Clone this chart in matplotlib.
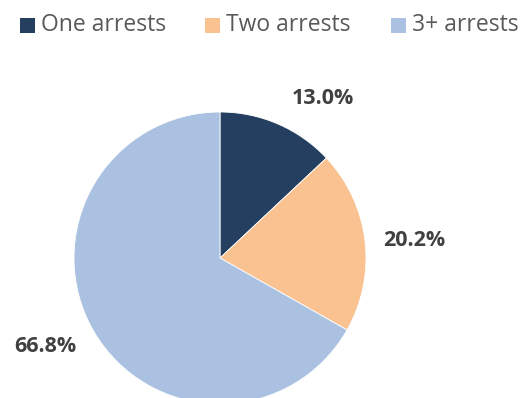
import matplotlib.pyplot as plt
from matplotlib.patches import Rectangle

categories = ["One arrests", "Two arrests", "3+ arrests"]
shares = [13.0, 20.2, 66.8]
colors = ["#243F60", "#F9C290", "#AAC1E1"]

W, H = 521, 398
fig = plt.figure(figsize=(W / 100, H / 100), dpi=100)
ax = fig.add_axes([0, 0, 1, 1])

cx, cy, r = 220, H - 258, 146
ax.pie(shares, colors=colors, startangle=90, counterclock=False,
       center=(cx, cy), radius=r, frame=True,
       wedgeprops=dict(linewidth=0.6, edgecolor="white"))
ax.set_xlim(0, W)
ax.set_ylim(0, H)
ax.set_aspect("equal")
ax.axis("off")

# percentage labels outside the slices
label_pos = [(323, H - 99), (414, H - 240), (45, H - 347)]
for v, (x, y) in zip(shares, label_pos):
    ax.text(x, y, f"{v:.1f}%", ha="center", va="center", fontsize=15.5,
            fontweight="bold", color="#404040", family="Open Sans")

# legend row across the top
key_x = [20, 205, 391]
for name, c, x in zip(categories, colors, key_x):
    ax.add_patch(Rectangle((x, H - 33), 15, 15, facecolor=c, edgecolor="none",
                           clip_on=False))
    ax.text(x + 21, H - 25, name, ha="left", va="center", fontsize=16.5,
            color="#595959", family="Open Sans")

fig.savefig("out.png", dpi=100)
